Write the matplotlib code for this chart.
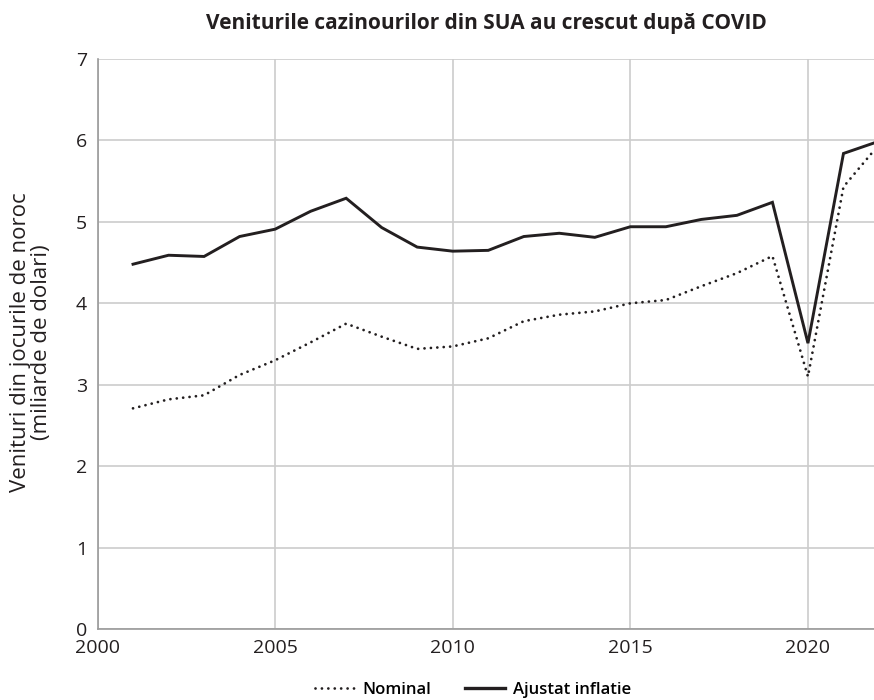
import matplotlib
matplotlib.use("Agg")
import matplotlib.pyplot as plt
from matplotlib.lines import Line2D

years = [2001, 2002, 2003, 2004, 2005, 2006, 2007, 2008, 2009, 2010, 2011,
         2012, 2013, 2014, 2015, 2016, 2017, 2018, 2019, 2020, 2021, 2022]
nominal = [2.71, 2.82, 2.87, 3.12, 3.30, 3.52, 3.75, 3.59, 3.44, 3.47, 3.57,
           3.78, 3.86, 3.90, 4.00, 4.04, 4.21, 4.37, 4.58, 3.10, 5.43, 5.95]
adjusted = [4.48, 4.59, 4.575, 4.82, 4.91, 5.13, 5.29, 4.93, 4.69, 4.64, 4.65,
            4.82, 4.86, 4.81, 4.94, 4.94, 5.03, 5.08, 5.24, 3.51, 5.84, 5.99]
xticks = [2000, 2005, 2010, 2015, 2020]
yticks = [0, 1, 2, 3, 4, 5, 6, 7]
title = "Veniturile cazinourilor din SUA au crescut după COVID"
ylabel = "Venituri din jocurile de noroc\n(miliarde de dolari)"
labels = ["Nominal", "Ajustat inflatie"]

plt.rcParams['font.family'] = ['Open Sans', 'DejaVu Sans']

fig = plt.figure(figsize=(8.74, 7.0), dpi=100)
ax = fig.add_axes([97.5 / 874, 1 - 629 / 700, (879 - 97.5) / 874, (629 - 59) / 700])

col = '#231f20'
dot = (0, (0.01, 2.3))
ax.plot(years, nominal, color=col, lw=2.0, linestyle=dot,
        dash_capstyle='round', zorder=3)
ax.plot(years, adjusted, color=col, lw=2.1, solid_joinstyle='miter', zorder=3)

ax.set_xlim(2000, 2022)
ax.set_ylim(0, 7)
ax.set_xticks(xticks)
ax.set_yticks(yticks)
ax.grid(True, color='#cccccc', lw=1.2, zorder=0)
ax.set_axisbelow(True)
for s in ['top', 'right']:
    ax.spines[s].set_visible(False)
for s in ['left', 'bottom']:
    ax.spines[s].set_color('#9a9a9a')
    ax.spines[s].set_linewidth(1.2)
ax.tick_params(length=0, labelsize=14, colors='#231f20')
ax.tick_params(axis='y', pad=7.5)
ax.tick_params(axis='x', pad=7)

fig.text(31 / 874, 1 - 342 / 700, ylabel, rotation=90, ha='center', va='center',
         multialignment='center', fontsize=16, fontweight='medium',
         color='#231f20', linespacing=1.0)
fig.text(486 / 874, 1 - 24 / 700, title, ha='center', va='center',
         fontsize=15, fontweight='bold', color='#231f20')

handles = [Line2D([], [], color=col, lw=2.0, linestyle=dot, dash_capstyle='round'),
           Line2D([], [], color=col, lw=2.4)]
fig.legend(handles, labels, loc='center', bbox_to_anchor=(473 / 874, 1 - 690 / 700),
           ncol=2, frameon=False, handlelength=2.4, columnspacing=2.0,
           handletextpad=0.5, prop={'size': 12, 'weight': 'semibold'})

fig.savefig('out.png', dpi=100)
